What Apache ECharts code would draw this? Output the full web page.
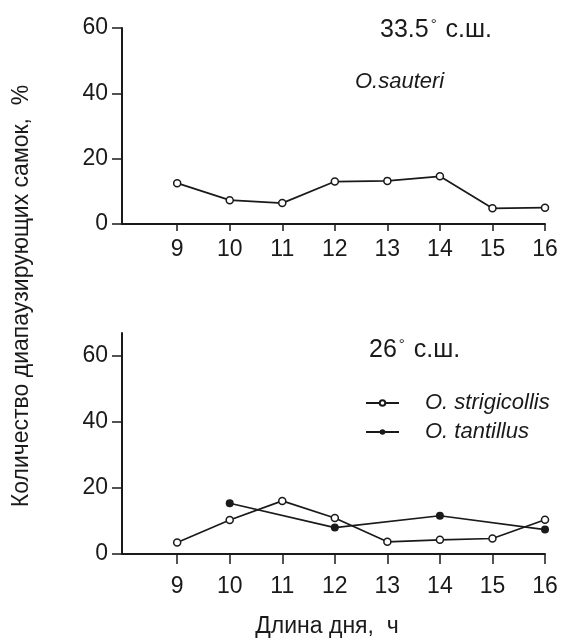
<!DOCTYPE html>
<html>
<head>
<meta charset="utf-8">
<script src="https://cdn.jsdelivr.net/npm/echarts@6/dist/echarts.min.js"></script>
<style>html,body{margin:0;padding:0;background:#fff;}#c{width:561px;height:643px;}</style>
</head>
<body>
<div id="c"></div>
<script>
// Day length (hours)
const hours = [9, 10, 11, 12, 13, 14, 15, 16];
const xTicks = [9, 10, 11, 12, 13, 14, 15, 16];
const yTicks = [0, 20, 40, 60];
// 33.5° N — O.sauteri
const sauteri = [12.5, 7.3, 6.4, 13.0, 13.2, 14.6, 4.8, 5.0];
// 26° N — O. strigicollis
const strigicollis = [3.5, 10.3, 16.1, 10.9, 3.7, 4.3, 4.7, 10.4];
// 26° N — O. tantillus
const tantillusHours = [10, 12, 14, 16];
const tantillus = [15.4, 8.0, 11.6, 7.4];

const topTitle = '33.5';
const bottomTitle = '26';
const latSuffix = ' с.ш.';
const yName = 'Количество диапаузирующих самок,  %';
const xName = 'Длина дня,  ч';

const ink = '#1a1a1a';
const FONT = 'Liberation Sans, Arial, sans-serif';

function pairs(xs, ys) { return xs.map((x, i) => [x, ys[i]]); }

function xAxisCfg(gridIndex, tickLen, margin) {
  return {
    type: 'value', gridIndex, min: 7.95, max: 16,
    axisLine: { show: true, onZero: false, lineStyle: { color: ink, width: 2 } },
    axisTick: { show: true, length: tickLen, customValues: xTicks, lineStyle: { color: ink, width: 1.5 } },
    axisLabel: { show: true, customValues: xTicks, margin, color: ink, fontSize: 23, fontFamily: FONT },
    splitLine: { show: false }
  };
}
function yAxisCfg(gridIndex, max) {
  return {
    type: 'value', gridIndex, min: 0, max,
    axisLine: { show: true, lineStyle: { color: ink, width: 2 } },
    axisTick: { show: true, length: 10, customValues: yTicks, lineStyle: { color: ink, width: 1.5 } },
    axisLabel: { show: true, customValues: yTicks, margin: 14, color: ink, fontSize: 23, fontFamily: FONT },
    splitLine: { show: false }
  };
}

const openSym = { color: '#fff', borderColor: ink, borderWidth: 1.5 };
const degRich = { d: { fontSize: 15, verticalAlign: 'top', color: ink, fontFamily: FONT, padding: [0, 2, 12, 2] } };

const chart = echarts.init(document.getElementById('c'), null, { renderer: 'canvas' });
chart.setOption({
  animation: false,
  backgroundColor: '#fff',
  grid: [
    { left: 122, top: 28, width: 423, height: 196 },
    { left: 122, top: 333, width: 423, height: 221 }
  ],
  xAxis: [xAxisCfg(0, 7, 14), xAxisCfg(1, 10, 21)],
  yAxis: [yAxisCfg(0, 60), yAxisCfg(1, 67)],
  legend: {
    data: ['O. strigicollis', 'O. tantillus'],
    orient: 'vertical', left: 365, top: 392, padding: 0,
    itemWidth: 33, itemHeight: 7, itemGap: 7,
    textStyle: { color: ink, fontSize: 22, fontStyle: 'italic', fontFamily: FONT, padding: [0, 0, 0, 21] }
  },
  title: [
    { text: topTitle + '{d|°}' + latSuffix, left: 380, top: 17, padding: 0,
      textStyle: { color: ink, fontSize: 25, fontWeight: 'normal', fontFamily: FONT, rich: degRich } },
    { text: 'O.sauteri', left: 355, top: 71, padding: 0,
      textStyle: { color: ink, fontSize: 22, fontStyle: 'italic', fontWeight: 'normal', fontFamily: FONT } },
    { text: bottomTitle + '{d|°}' + latSuffix, left: 369, top: 337, padding: 0,
      textStyle: { color: ink, fontSize: 25, fontWeight: 'normal', fontFamily: FONT, rich: degRich } }
  ],
  graphic: [
    { type: 'text', x: 22, y: 296, rotation: Math.PI / 2,
      style: { text: yName, fill: ink, font: '23px ' + FONT, textAlign: 'center', textVerticalAlign: 'middle' } },
    { type: 'text', x: 327, y: 627,
      style: { text: xName, fill: ink, font: '23px ' + FONT, textAlign: 'center', textVerticalAlign: 'middle' } }
  ],
  series: [
    { name: 'O.sauteri', type: 'line', xAxisIndex: 0, yAxisIndex: 0,
      data: pairs(hours, sauteri), symbol: 'circle', symbolSize: 7,
      lineStyle: { color: ink, width: 1.7 }, itemStyle: openSym },
    { name: 'O. strigicollis', type: 'line', xAxisIndex: 1, yAxisIndex: 1,
      data: pairs(hours, strigicollis), symbol: 'circle', symbolSize: 7,
      lineStyle: { color: ink, width: 1.7 }, itemStyle: openSym },
    { name: 'O. tantillus', type: 'line', xAxisIndex: 1, yAxisIndex: 1,
      data: pairs(tantillusHours, tantillus), symbol: 'circle', symbolSize: 8,
      lineStyle: { color: ink, width: 1.7 }, itemStyle: { color: ink } }
  ]
});
</script>
</body>
</html>
